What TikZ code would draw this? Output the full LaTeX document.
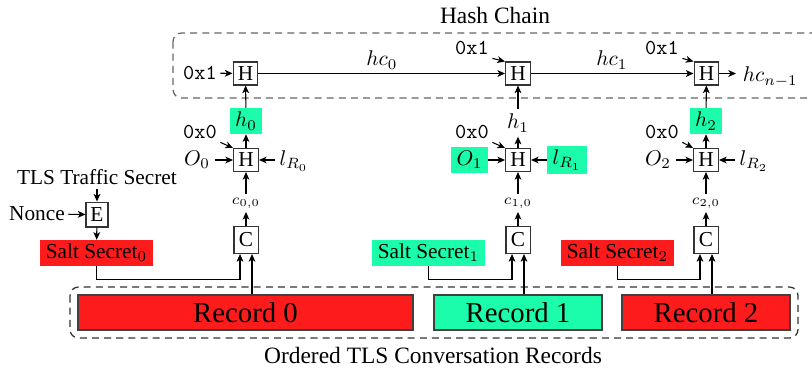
\documentclass[tikz,border=0pt]{standalone}
\usepackage{fontspec}
\setmainfont{Liberation Serif}
\usetikzlibrary{arrows.meta,calc}
\definecolor{hlred}{RGB}{253,27,27}
\definecolor{hlgreen}{RGB}{27,253,170}
\begin{document}
\begin{tikzpicture}[x=0.4695pt,y=-0.4695pt,
  font=\fontsize{10}{12}\selectfont,
  >={Stealth[length=3.6pt,width=3.2pt,inset=1pt]},
  conn/.style={->,line width=0.5pt,black},
  line/.style={line width=0.5pt,black},
  hb/.style={draw=black!80,line width=0.5pt,inner sep=0pt,minimum width=11.7pt,minimum height=10.8pt},
  cb/.style={draw=black!80,line width=0.5pt,inner sep=0pt,minimum width=11.3pt,minimum height=12.7pt},
  eb/.style={draw=black!80,line width=0.5pt,inner sep=0pt,minimum width=10.3pt,minimum height=11.7pt},
  gbox/.style={fill=hlgreen,inner xsep=2.5pt,inner ysep=1.8pt},
  rbox/.style={fill=hlred,inner xsep=2.5pt,inner ysep=1.8pt},
  plain/.style={inner sep=2pt},
  ttl/.style={inner sep=1.5pt,font=\fontsize{10}{12}\selectfont\ttfamily},
  clab/.style={inner sep=1.5pt,font=\scriptsize},
  rec/.style={draw=black!75,line width=0.6pt,minimum height=16.4pt,inner sep=0pt,font=\fontsize{13.5}{15}\selectfont},
  grp/.style={dash pattern=on 3.3pt off 2.4pt,line width=0.6pt,rounded corners=4pt},
  big/.style={font=\fontsize{11}{13}\selectfont}
]
\useasboundingbox (0,0) rectangle (812,370);
\clip (0,0) rectangle (812,370);

% group boxes
\draw[grp,black!60] (173,33) rectangle (822,98);
\draw[grp,black!80] (70,287) rectangle (798,338);
\node[big] (hashlbl) at (495,15) {Hash Chain};
\node[big] (reclbl) at (433,355) {Ordered TLS Conversation Records};

% top hash chain
\node[hb] (T0) at (245.5,73.5) {H};
\node[hb] (T1) at (518,73.5) {H};
\node[hb] (T2) at (706.5,73.5) {H};
\node[ttl] (x10) at (200,73) {0x1};
\node[ttl] (x11) at (472,48) {0x1};
\node[ttl] (x12) at (662,48) {0x1};
\node[plain] (hc0) at (382,60) {$hc_0$};
\node[plain] (hc1) at (612,60) {$hc_1$};
\node[inner sep=3pt,anchor=west] (hcn) at (736,77) {$hc_{n-1}$};
\draw[conn] (x10) -- (T0);
\draw[conn] (x11.south east) -- (T1.north west);
\draw[conn] (x12.south east) -- (T2.north west);
\draw[conn] (T0) -- (T1);
\draw[conn] (T1) -- (T2);
\draw[conn] (T2.east) -- (T2.east -| hcn.west);

% lower hashes
\node[hb] (L0) at (246,160) {H};
\node[hb] (L1) at (518,160) {H};
\node[hb] (L2) at (706,160) {H};
\node[gbox,minimum width=15pt,minimum height=11.3pt] (h0) at (246,121) {$h_0$};
\node[plain] (h1) at (518,123) {$h_1$};
\node[gbox,minimum width=15pt,minimum height=11.3pt] (h2) at (706,121) {$h_2$};
\draw[conn] (L0) -- (h0);
\draw[conn] (h0) -- (T0);
\draw[conn] (L1) -- (h1);
\draw[conn] (h1) -- (T1);
\draw[conn] (L2) -- (h2);
\draw[conn] (h2) -- (T2);

\node[ttl] (x00) at (200,132) {0x0};
\node[ttl] (x01) at (472,132) {0x0};
\node[ttl] (x02) at (662,132) {0x0};
\draw[conn] (x00.south east) -- (L0.north west);
\draw[conn] (x01.south east) -- (L1.north west);
\draw[conn] (x02.south east) -- (L2.north west);

\node[plain] (O0) at (197,160) {$O_0$};
\node[gbox,minimum width=16.4pt,minimum height=12.2pt] (O1) at (469.5,160) {$O_1$};
\node[plain] (O2) at (658,160) {$O_2$};
\node[plain] (l0) at (294,161) {$l_{R_0}$};
\node[gbox,minimum width=18.8pt,minimum height=12.2pt] (l1) at (567,160) {$l_{R_1}$};
\node[plain] (l2) at (754,161) {$l_{R_2}$};
\draw[conn] (O0) -- (L0);
\draw[conn] (O1) -- (L1);
\draw[conn] (O2) -- (L2);
\draw[conn] (l0.west |- L0) -- (L0);
\draw[conn] (l1) -- (L1);
\draw[conn] (l2.west |- L2) -- (L2);

% compression
\node[clab] (c0) at (246,203) {$c_{0,0}$};
\node[clab] (c1) at (518,203) {$c_{1,0}$};
\node[clab] (c2) at (706,203) {$c_{2,0}$};
\node[cb] (C0) at (246,240) {C};
\node[cb] (C1) at (518,240) {C};
\node[cb] (C2) at (706,240) {C};
\draw[conn] (c0) -- (L0);
\draw[conn] (c1) -- (L1);
\draw[conn] (c2) -- (L2);
\draw[conn] (C0) -- (c0);
\draw[conn] (C1) -- (c1);
\draw[conn] (C2) -- (c2);

% encryption of salt
\node[plain] (tts) at (97,177) {TLS Traffic Secret};
\node[eb] (E) at (97,214.5) {E};
\node[inner sep=1.5pt] (nonce) at (37,214) {Nonce};
\draw[conn] (tts) -- (E);
\draw[conn] (nonce) -- (E);

\node[rbox,minimum width=53pt,minimum height=11.3pt] (s0) at (96.5,253) {Salt Secret$_0$};
\node[gbox,minimum width=53pt,minimum height=11.3pt] (s1) at (428.5,253) {Salt Secret$_1$};
\node[rbox,minimum width=53pt,minimum height=11.3pt] (s2) at (617.5,253) {Salt Secret$_2$};
\draw[conn] (E) -- (s0);

% records
\node[rec,fill=hlred,minimum width=157.3pt] (R0) at (245.5,312.5) {Record 0};
\node[rec,fill=hlgreen,minimum width=78.9pt] (R1) at (518,312.5) {Record 1};
\node[rec,fill=hlred,minimum width=78.9pt] (R2) at (706,312.5) {Record 2};

\coordinate (C0l) at ($(C0.south)+(-6,0)$);
\coordinate (C1l) at ($(C1.south)+(-6,0)$);
\coordinate (C2l) at ($(C2.south)+(-6,0)$);
\coordinate (C0r) at ($(C0.south)+(6,0)$);
\coordinate (C1r) at ($(C1.south)+(6,0)$);
\coordinate (C2r) at ($(C2.south)+(6,0)$);
\draw[conn] (s0.south) -- ++(0,13) -| (C0l);
\draw[conn] (s1.south) -- ++(0,13) -| (C1l);
\draw[conn] (s2.south) -- ++(0,13) -| (C2l);
\draw[conn] (C0r |- R0.north) -- (C0r);
\draw[conn] (C1r |- R1.north) -- (C1r);
\draw[conn] (C2r |- R2.north) -- (C2r);
\end{tikzpicture}
\end{document}
